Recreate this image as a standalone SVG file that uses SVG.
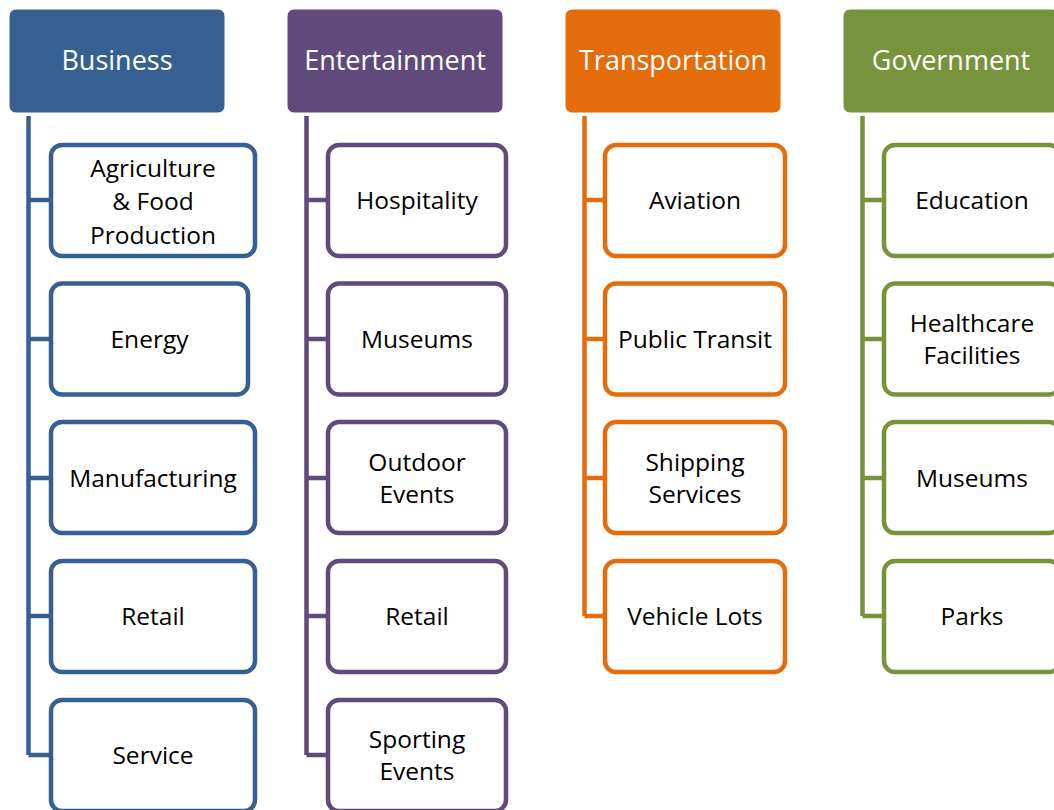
<svg xmlns="http://www.w3.org/2000/svg" width="1054" height="810" viewBox="0 0 1054 810">
<style>
.hdr{stroke:#ffffff;stroke-width:1}
.ht{font-family:"Open Sans","Liberation Sans",sans-serif;font-size:27px;fill:#ffffff;text-anchor:middle}
.box{fill:#ffffff;stroke-width:4.5}
.bt{font-family:"Open Sans","Liberation Sans",sans-serif;font-size:24.5px;fill:#000000;text-anchor:middle}
.con{fill:none;stroke-width:4.5;stroke-linejoin:miter}
.blue{stroke:#376092}
.purple{stroke:#604a7b}
.orange{stroke:#e46c0a}
.green{stroke:#77933c}
</style>
<rect width="1054" height="810" fill="#ffffff"/>
<g id="connectors">
<path class="con blue" d="M28.5,116 V755 M28.5,200 H51 M28.5,339 H51 M28.5,478 H51 M28.5,616 H51 M28.5,755 H51"/>
<path class="con purple" d="M306.5,116 V755 M306.5,200 H328 M306.5,339 H328 M306.5,478 H328 M306.5,616 H328 M306.5,755 H328"/>
<path class="con orange" d="M584.5,116 V616 M584.5,200 H605 M584.5,339 H605 M584.5,478 H605 M584.5,616 H605"/>
<path class="con green" d="M862.5,116 V616 M862.5,200 H884 M862.5,339 H884 M862.5,478 H884 M862.5,616 H884"/>
</g>
<g id="business">
<rect class="hdr" x="9" y="9" width="216" height="104" rx="7" fill="#376092"/>
<text class="ht" x="117" y="70">Business</text>
</g>
<g id="entertainment">
<rect class="hdr" x="287" y="9" width="216" height="104" rx="7" fill="#604a7b"/>
<text class="ht" x="395" y="70">Entertainment</text>
</g>
<g id="transportation">
<rect class="hdr" x="565" y="9" width="216" height="104" rx="7" fill="#e46c0a"/>
<text class="ht" x="673" y="70">Transportation</text>
</g>
<g id="government">
<rect class="hdr" x="843" y="9" width="216" height="104" rx="7" fill="#77933c"/>
<text class="ht" x="951" y="70">Government</text>
</g>
<g id="agriculture">
<rect class="box blue" x="51" y="145" width="204" height="111" rx="11"/>
<text class="bt" x="153" y="176.5">Agriculture</text>
<text class="bt" x="153" y="210">&amp; Food</text>
<text class="bt" x="153" y="243.5">Production</text>
</g>
<g id="energy">
<rect class="box blue" x="51" y="283.5" width="197" height="111" rx="11"/>
<text class="bt" x="149.5" y="347.5">Energy</text>
</g>
<g id="manufacturing">
<rect class="box blue" x="51" y="422" width="204" height="111" rx="11"/>
<text class="bt" x="153" y="486.5">Manufacturing</text>
</g>
<g id="retail-business">
<rect class="box blue" x="51" y="561" width="204" height="111" rx="11"/>
<text class="bt" x="153" y="624.5">Retail</text>
</g>
<g id="service">
<rect class="box blue" x="51" y="700" width="204" height="111" rx="11"/>
<text class="bt" x="153" y="763.5">Service</text>
</g>
<g id="hospitality">
<rect class="box purple" x="328" y="145" width="178" height="111" rx="11"/>
<text class="bt" x="417" y="208.5">Hospitality</text>
</g>
<g id="museums-entertainment">
<rect class="box purple" x="328" y="283.5" width="178" height="111" rx="11"/>
<text class="bt" x="417" y="347.5">Museums</text>
</g>
<g id="outdoor-events">
<rect class="box purple" x="328" y="422" width="178" height="111" rx="11"/>
<text class="bt" x="417" y="470.5">Outdoor</text>
<text class="bt" x="417" y="502.5">Events</text>
</g>
<g id="retail-entertainment">
<rect class="box purple" x="328" y="561" width="178" height="111" rx="11"/>
<text class="bt" x="417" y="624.5">Retail</text>
</g>
<g id="sporting-events">
<rect class="box purple" x="328" y="700" width="178" height="111" rx="11"/>
<text class="bt" x="417" y="747.5">Sporting</text>
<text class="bt" x="417" y="779.5">Events</text>
</g>
<g id="aviation">
<rect class="box orange" x="605" y="145" width="180" height="111" rx="11"/>
<text class="bt" x="695" y="208.5">Aviation</text>
</g>
<g id="public-transit">
<rect class="box orange" x="605" y="283.5" width="180" height="111" rx="11"/>
<text class="bt" x="695" y="347.5">Public Transit</text>
</g>
<g id="shipping-services">
<rect class="box orange" x="605" y="422" width="180" height="111" rx="11"/>
<text class="bt" x="695" y="470.5">Shipping</text>
<text class="bt" x="695" y="502.5">Services</text>
</g>
<g id="vehicle-lots">
<rect class="box orange" x="605" y="561" width="180" height="111" rx="11"/>
<text class="bt" x="695" y="624.5">Vehicle Lots</text>
</g>
<g id="education">
<rect class="box green" x="884" y="145" width="176" height="111" rx="11"/>
<text class="bt" x="972" y="208.5">Education</text>
</g>
<g id="healthcare-facilities">
<rect class="box green" x="884" y="283.5" width="176" height="111" rx="11"/>
<text class="bt" x="972" y="331.5">Healthcare</text>
<text class="bt" x="972" y="363.5">Facilities</text>
</g>
<g id="museums-government">
<rect class="box green" x="884" y="422" width="176" height="111" rx="11"/>
<text class="bt" x="972" y="486.5">Museums</text>
</g>
<g id="parks">
<rect class="box green" x="884" y="561" width="176" height="111" rx="11"/>
<text class="bt" x="972" y="624.5">Parks</text>
</g>
</svg>
